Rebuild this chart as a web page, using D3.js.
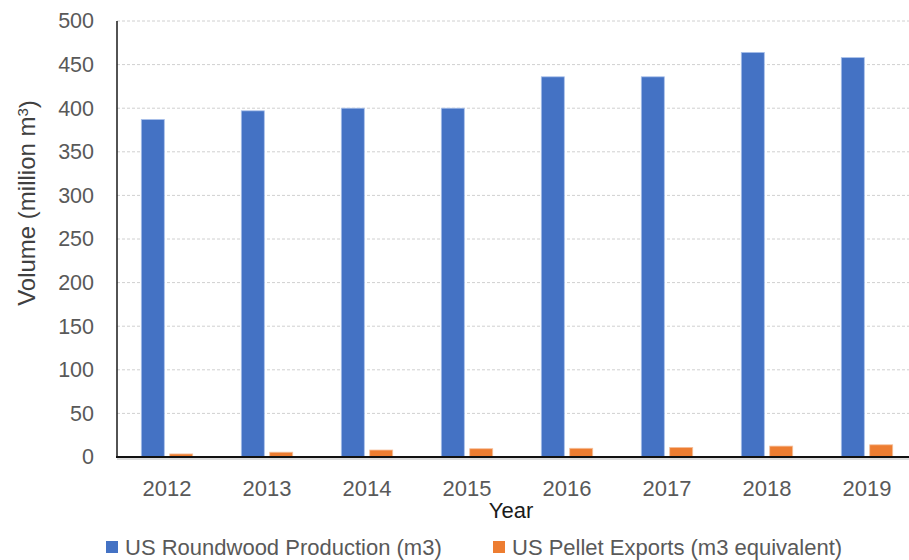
<!DOCTYPE html>
<html>
<head>
<meta charset="utf-8">
<script src="https://cdn.jsdelivr.net/npm/d3@7"></script>
<style>
  html, body { margin: 0; padding: 0; background: #fff; }
  svg { display: block; font-family: "Liberation Sans", Arial, sans-serif; }
</style>
</head>
<body>
<svg id="chart" width="909" height="560"></svg>
<script>
// Annual volumes, million m3
const years = ["2012", "2013", "2014", "2015", "2016", "2017", "2018", "2019"];
const roundwood = [387, 397, 400, 400, 436, 436, 464, 458];
const pelletExports = [3.5, 5.5, 8, 9.5, 10, 11, 12.5, 14];
const seriesNames = ["US Roundwood Production (m3)", "US Pellet Exports (m3 equivalent)"];
const seriesColors = ["#4472C4", "#ED7D31"];
const yTicks = [0, 50, 100, 150, 200, 250, 300, 350, 400, 450, 500];

const series = [roundwood, pelletExports];
const rows = years.map((y, i) => ({ year: y, values: series.map(s => s[i]) }));

const svg = d3.select("#chart");
const plotLeft = 117, plotRight = 917, plotTop = 21, plotBottom = 457;

const x0 = d3.scaleBand().domain(years).range([plotLeft, plotRight])
  .paddingInner(0.486).paddingOuter(0.243);
const x1 = d3.scaleBand().domain(d3.range(series.length)).range([0, x0.bandwidth()])
  .paddingInner(0.19).paddingOuter(0);
const y = d3.scaleLinear().domain([0, 500]).range([plotBottom, plotTop]);

// Horizontal gridlines
svg.append("g")
  .selectAll("line")
  .data(yTicks.filter(t => t > 0))
  .join("line")
  .attr("x1", plotLeft).attr("x2", 909)
  .attr("y1", d => y(d)).attr("y2", d => y(d))
  .attr("stroke", "#d0d0d0")
  .attr("stroke-width", 1)
  .attr("stroke-dasharray", "3,2");

// Y axis labels
const yAxis = d3.axisLeft(y).tickValues(yTicks).tickSize(0).tickPadding(23);
const gy = svg.append("g").attr("transform", `translate(${plotLeft},0)`).call(yAxis);
gy.select(".domain").remove();
gy.selectAll("text")
  .attr("fill", "#595959")
  .style("font-size", "21.5px");

// Bars
const groups = svg.append("g")
  .selectAll("g")
  .data(rows)
  .join("g")
  .attr("transform", d => `translate(${x0(d.year)},0)`);

groups.selectAll("rect")
  .data(d => d.values.map((v, i) => ({ v, i })))
  .join("rect")
  .attr("x", d => x1(d.i))
  .attr("width", x1.bandwidth())
  .attr("y", d => y(d.v))
  .attr("height", d => y(0) - y(d.v))
  .attr("fill", d => seriesColors[d.i])
  .attr("stroke", d => d.i === 0 ? "#a9c0ea" : "#f6c09c")
  .attr("stroke-width", 0.8);

// Axis lines
svg.append("line")
  .attr("x1", plotLeft).attr("x2", plotLeft)
  .attr("y1", plotTop).attr("y2", plotBottom)
  .attr("stroke", "#1a1a1a").attr("stroke-width", 1.5);

// X axis labels
const xAxis = d3.axisBottom(x0).tickSize(0).tickPadding(23);
const gx = svg.append("g").attr("transform", `translate(0,${plotBottom})`).call(xAxis);
gx.select(".domain").remove();
gx.selectAll("text")
  .attr("fill", "#595959")
  .style("font-size", "22px");

svg.append("line")
  .attr("x1", plotLeft - 1).attr("x2", 909)
  .attr("y1", plotBottom).attr("y2", plotBottom)
  .attr("stroke", "#111").attr("stroke-width", 2.2);
svg.append("line")
  .attr("x1", plotLeft).attr("x2", 909)
  .attr("y1", plotBottom + 2).attr("y2", plotBottom + 2)
  .attr("stroke", "#bbb").attr("stroke-width", 1);

// Axis titles
svg.append("text")
  .attr("x", 511).attr("y", 518)
  .attr("text-anchor", "middle")
  .attr("fill", "#1a1a1a")
  .style("font-size", "22px")
  .text("Year");

const yTitle = svg.append("text")
  .attr("transform", "translate(35,203) rotate(-90)")
  .attr("text-anchor", "middle")
  .attr("fill", "#404040")
  .style("font-size", "24px");
yTitle.append("tspan").text("Volume (million m");
yTitle.append("tspan").attr("dy", "-0.5em").style("font-size", "15px").text("3");
yTitle.append("tspan").attr("dy", "0.35em").text(")");

// Legend
const legendX = [106, 493];
const legend = svg.append("g")
  .selectAll("g")
  .data(seriesNames)
  .join("g")
  .attr("transform", (d, i) => `translate(${legendX[i]},0)`);
legend.append("rect")
  .attr("x", 0).attr("y", 541)
  .attr("width", 12).attr("height", 12)
  .attr("fill", (d, i) => seriesColors[i]);
legend.append("text")
  .attr("x", 19).attr("y", 555)
  .attr("fill", "#595959")
  .style("font-size", "22px")
  .text(d => d);
</script>
</body>
</html>
